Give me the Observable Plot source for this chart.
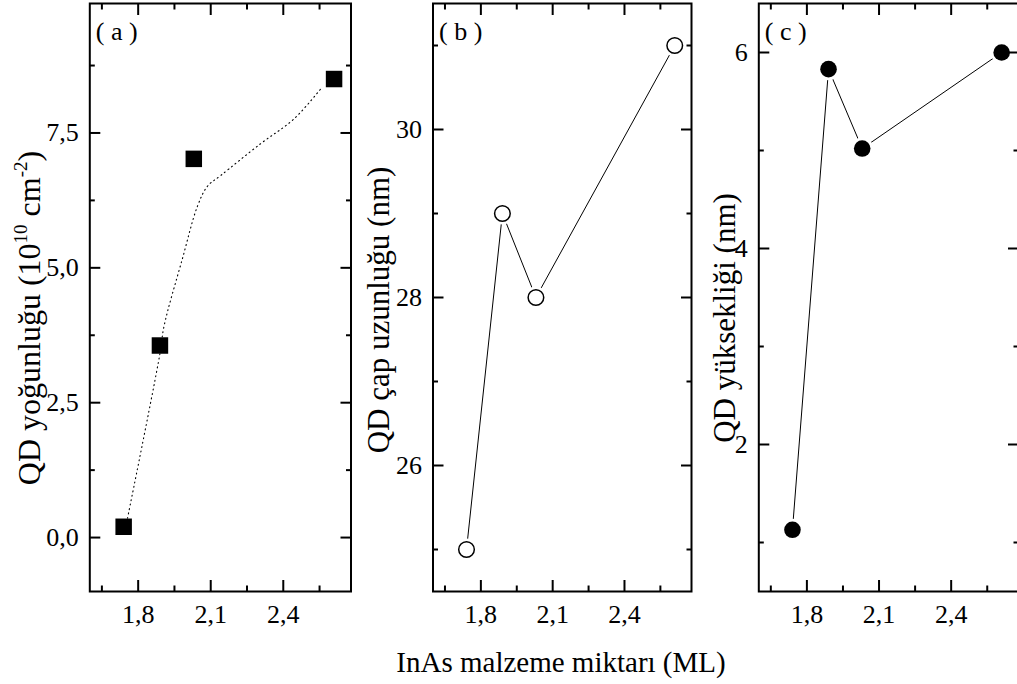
<!DOCTYPE html>
<html>
<head>
<meta charset="utf-8">
<script src="https://cdn.jsdelivr.net/npm/d3@7"></script>
<script src="https://cdn.jsdelivr.net/npm/@observablehq/plot@0.6"></script>
<style>
  html, body { margin: 0; padding: 0; background: #fff; overflow: hidden; }
  #wrap { position: relative; width: 1017px; height: 684px; font-family: "Liberation Serif", "Times New Roman", serif; }
  .panel { position: absolute; top: 0; }
  #xtitle { position: absolute; left: 311px; width: 500px; top: 648px; text-align: center; font-size: 29px; line-height: 1; color: #000; white-space: nowrap; }
</style>
</head>
<body>
<div id="wrap"><div id="xtitle"></div></div>
<script>
// ---- data ----
const thickness = [1.74, 1.89, 2.03, 2.61];          // InAs malzeme miktarı (ML)
const density = [0.2, 3.56, 7.02, 8.5];               // QD yoğunluğu (10^10 cm^-2)
const diameter = [25.0, 29.0, 28.0, 31.0];            // QD çap uzunluğu (nm)
const heightNm = [1.13, 5.83, 5.02, 6.0];             // QD yüksekliği (nm)
// dotted guide curve of panel (a)
const fitThickness = [1.756, 1.89, 1.907, 1.983, 2.045, 2.086, 2.141, 2.306, 2.444, 2.561];
const fitDensity   = [0.36, 3.41, 3.92, 5.17, 6.14, 6.51, 6.71, 7.30, 7.76, 8.35];

const xMajorTicks = [1.8, 2.1, 2.4];
const xMinorTicks = [1.65, 1.95, 2.25, 2.55];
const aMajorTicks = [0, 2.5, 5, 7.5];
const aMinorTicks = [1.25, 3.75, 6.25, 8.75];
const bMajorTicks = [26, 28, 30];
const bMinorTicks = [25, 27, 29, 31];
const cMajorTicks = [2, 4, 6];
const cMinorTicks = [1, 3, 5];

const panelTags = ["( a )", "( b )", "( c )"];
const yTitleB = "QD çap uzunluğu (nm)";
const yTitleC = "QD yüksekliği (nm)";
const xTitle = "InAs malzeme miktarı (ML)";

const xDomain = [1.6, 2.68];

const pts = thickness.map((x, i) => ({x, density: density[i], diameter: diameter[i], height: heightNm[i]}));
const fitPts = fitThickness.map((x, i) => ({x, y: fitDensity[i]}));

const comma1 = d => d.toFixed(1).replace(".", ",");
const blank = () => "";

function frameTicks(yMajor, yMinor) {
  const common = {stroke: "black", strokeWidth: 2, tickFormat: blank, label: null};
  return [
    Plot.axisX({...common, anchor: "bottom", ticks: xMajorTicks, tickSize: -11}),
    Plot.axisX({...common, anchor: "bottom", ticks: xMinorTicks, tickSize: -5.5}),
    Plot.axisX({...common, anchor: "top", ticks: xMajorTicks, tickSize: -11}),
    Plot.axisX({...common, anchor: "top", ticks: xMinorTicks, tickSize: -5.5}),
    Plot.axisY({...common, anchor: "left", ticks: yMajor, tickSize: -11}),
    Plot.axisY({...common, anchor: "left", ticks: yMinor, tickSize: -5.5}),
    Plot.axisY({...common, anchor: "right", ticks: yMajor, tickSize: -11}),
    Plot.axisY({...common, anchor: "right", ticks: yMinor, tickSize: -5.5})
  ];
}

function makePanel(o) {
  const plot = Plot.plot({
    width: o.width,
    height: 640,
    marginLeft: o.ml,
    marginRight: o.mr,
    marginTop: 3,
    marginBottom: 49,
    x: {domain: xDomain},
    y: {domain: o.yDomain},
    style: {fontFamily: "Liberation Serif", fontSize: "26px", color: "black", background: "transparent", overflow: "visible"},
    marks: [
      ...o.marks,
      Plot.frame({stroke: "black", strokeWidth: 2}),
      ...frameTicks(o.yMajor, o.yMinor),
      Plot.axisX({anchor: "bottom", ticks: xMajorTicks, tickSize: 0, tickPadding: 13, tickFormat: comma1, label: null, fontSize: 26}),
      Plot.axisY({anchor: "left", ticks: o.yMajor, tickSize: 0, tickPadding: 11, tickFormat: o.yFmt, label: null, fontSize: 26}),
      Plot.text([o.tag], {text: d => d, frameAnchor: "top-left", lineAnchor: "top", textAnchor: "start", dx: 6, dy: 18, fontSize: 26, fill: "black"})
    ]
  });
  plot.classList.add("panel");
  plot.style.left = o.left + "px";
  const svg = d3.select(plot);
  const t = svg.append("text")
    .attr("transform", `translate(${o.lx},${o.ly}) rotate(-90)`)
    .attr("text-anchor", "middle")
    .attr("font-family", "Liberation Serif")
    .attr("font-size", o.titleSize)
    .attr("fill", "black");
  o.title(t);
  document.getElementById("wrap").appendChild(plot);
}

// (a)
makePanel({
  left: 0, width: 360, ml: 89.3, mr: 9.5,
  yDomain: [-1, 9.9], yMajor: aMajorTicks, yMinor: aMinorTicks, yFmt: comma1,
  tag: panelTags[0], lx: 40, ly: 318, titleSize: 32,
  title: t => {
    t.append("tspan").text("QD yoğunluğu (10");
    t.append("tspan").attr("font-size", 19).attr("dy", -13).text("10");
    t.append("tspan").attr("dy", 13).text(" cm");
    t.append("tspan").attr("font-size", 19).attr("dy", -13).text("-2");
    t.append("tspan").attr("dy", 13).text(")");
  },
  marks: [
    Plot.line(fitPts, {x: "x", y: "y", curve: "catmull-rom", stroke: "black", strokeWidth: 1.1, strokeDasharray: "1,3.5"}),
    Plot.dot(pts, {x: "x", y: "density", symbol: "square", r: 9.3, fill: "black"})
  ]
});

// (b)
makePanel({
  left: 360, width: 340, ml: 72.5, mr: 9,
  yDomain: [24.5, 31.5], yMajor: bMajorTicks, yMinor: bMinorTicks, yFmt: d => String(d),
  tag: panelTags[1], lx: 29, ly: 310, titleSize: 31,
  title: t => t.text(yTitleB),
  marks: [
    Plot.line(pts, {x: "x", y: "diameter", stroke: "black", strokeWidth: 1}),
    Plot.dot(pts, {x: "x", y: "diameter", r: 11, fill: "white"}),
    Plot.dot(pts, {x: "x", y: "diameter", r: 7.8, fill: "white", stroke: "black", strokeWidth: 1.5})
  ]
});

// (c)
makePanel({
  left: 700, width: 320, ml: 58.3, mr: 2,
  yDomain: [0.5, 6.5], yMajor: cMajorTicks, yMinor: cMinorTicks, yFmt: d => String(d),
  tag: panelTags[2], lx: 35, ly: 318, titleSize: 31,
  title: t => t.text(yTitleC),
  marks: [
    Plot.line(pts, {x: "x", y: "height", stroke: "black", strokeWidth: 1}),
    Plot.dot(pts, {x: "x", y: "height", r: 11, fill: "white"}),
    Plot.dot(pts, {x: "x", y: "height", r: 8.3, fill: "black"})
  ]
});

document.getElementById("xtitle").textContent = xTitle;
</script>
</body>
</html>
